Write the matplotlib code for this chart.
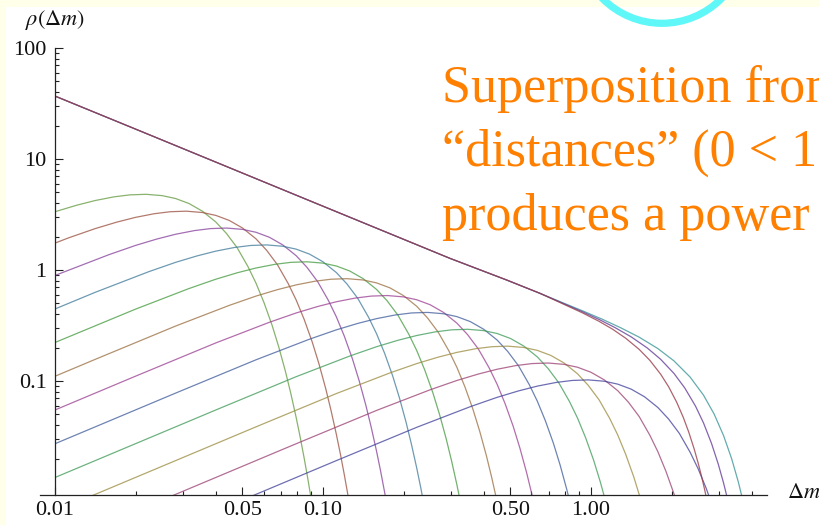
import numpy as np
import matplotlib.pyplot as plt
from matplotlib.patches import Ellipse, Rectangle
from matplotlib.ticker import NullFormatter

plt.rcParams['font.family'] = ['Liberation Serif', 'DejaVu Serif']
plt.rcParams['mathtext.fontset'] = 'stix'

#====================== DATA (log10 values) ======================

# single-distance curves, smallest scale first: log10(dm), log10(rho)
dm_log = [
    [-2.00, -1.92, -1.85, -1.78, -1.72, -1.66, -1.60, -1.55, -1.50, -1.45, -1.40, -1.36, -1.32,
     -1.28, -1.25, -1.22, -1.19, -1.165, -1.14, -1.12, -1.10, -1.085, -1.07, -1.058, -1.047, -1.037],
    [-2.15, -1.95, -1.85, -1.77, -1.70, -1.63, -1.57, -1.51, -1.45, -1.40, -1.35, -1.30, -1.25,
     -1.21, -1.17, -1.13, -1.10, -1.07, -1.04, -1.015, -0.99, -0.97, -0.95, -0.935, -0.92, -0.908, -0.897],
    [-2.00, -1.80, -1.70, -1.62, -1.55, -1.48, -1.42, -1.36, -1.30, -1.25, -1.20, -1.15, -1.10,
     -1.06, -1.02, -0.98, -0.95, -0.92, -0.89, -0.865, -0.84, -0.82, -0.80, -0.785, -0.77, -0.758],
    [-2.15, -1.85, -1.65, -1.55, -1.47, -1.40, -1.33, -1.27, -1.21, -1.15, -1.10, -1.05, -1.00,
     -0.95, -0.91, -0.87, -0.83, -0.80, -0.77, -0.74, -0.715, -0.69, -0.67, -0.65, -0.635, -0.62],
    [-2.00, -1.70, -1.50, -1.40, -1.32, -1.25, -1.18, -1.12, -1.06, -1.00, -0.95, -0.90, -0.85,
     -0.80, -0.76, -0.72, -0.68, -0.65, -0.62, -0.59, -0.565, -0.54, -0.52, -0.50, -0.485],
    [-2.95, -1.85, -1.55, -1.35, -1.25, -1.17, -1.10, -1.03, -0.97, -0.91, -0.85, -0.80, -0.75,
     -0.70, -0.65, -0.61, -0.57, -0.53, -0.50, -0.47, -0.44, -0.415, -0.39, -0.37, -0.35],
    [-2.80, -1.70, -1.40, -1.20, -1.10, -1.02, -0.95, -0.88, -0.82, -0.76, -0.70, -0.65, -0.60,
     -0.55, -0.50, -0.46, -0.42, -0.38, -0.35, -0.32, -0.29, -0.265, -0.24, -0.22, -0.20],
    [-2.65, -1.55, -1.25, -1.05, -0.95, -0.87, -0.80, -0.73, -0.67, -0.61, -0.55, -0.50, -0.45,
     -0.40, -0.35, -0.31, -0.27, -0.23, -0.20, -0.17, -0.14, -0.115, -0.09, -0.07],
    [-2.50, -1.40, -1.10, -0.90, -0.80, -0.72, -0.65, -0.58, -0.52, -0.46, -0.40, -0.35, -0.30,
     -0.25, -0.20, -0.16, -0.12, -0.08, -0.05, -0.02, 0.01, 0.035, 0.06],
    [-2.35, -1.25, -0.95, -0.75, -0.65, -0.57, -0.50, -0.43, -0.37, -0.31, -0.25, -0.20, -0.15,
     -0.10, -0.05, -0.01, 0.03, 0.07, 0.10, 0.13, 0.16, 0.185],
    [-2.20, -1.10, -0.80, -0.60, -0.50, -0.42, -0.35, -0.28, -0.22, -0.16, -0.10, -0.05, 0.00,
     0.05, 0.10, 0.14, 0.18, 0.22, 0.25, 0.28, 0.31, 0.335],
    [-2.05, -0.95, -0.65, -0.45, -0.35, -0.27, -0.20, -0.13, -0.07, -0.01, 0.05, 0.10, 0.15,
     0.20, 0.25, 0.29, 0.33, 0.37, 0.40, 0.43, 0.46],
]
rho_log = [
    [0.525, 0.583, 0.626, 0.659, 0.677, 0.682, 0.670, 0.644, 0.599, 0.530, 0.433, 0.329, 0.200,
     0.031, -0.118, -0.294, -0.497, -0.693, -0.914, -1.112, -1.329, -1.506, -1.697, -1.860, -2.017, -2.167],
    [0.103, 0.289, 0.373, 0.431, 0.474, 0.507, 0.525, 0.530, 0.518, 0.492, 0.447, 0.378, 0.281,
     0.177, 0.048, -0.121, -0.270, -0.446, -0.649, -0.845, -1.066, -1.264, -1.481, -1.658, -1.849, -2.012, -2.169],
    [-0.049, 0.137, 0.221, 0.279, 0.322, 0.355, 0.373, 0.378, 0.366, 0.340, 0.295, 0.226, 0.129,
     0.025, -0.104, -0.273, -0.422, -0.598, -0.801, -0.997, -1.218, -1.416, -1.633, -1.810, -2.001, -2.164],
    [-0.501, -0.201, -0.015, 0.069, 0.127, 0.170, 0.203, 0.221, 0.226, 0.214, 0.188, 0.143, 0.074,
     -0.023, -0.127, -0.256, -0.425, -0.574, -0.750, -0.953, -1.149, -1.370, -1.568, -1.785, -1.962, -2.153],
    [-0.653, -0.353, -0.167, -0.083, -0.025, 0.018, 0.051, 0.069, 0.074, 0.062, 0.036, -0.009, -0.078,
     -0.175, -0.279, -0.408, -0.577, -0.726, -0.902, -1.105, -1.301, -1.522, -1.720, -1.937, -2.114],
    [-1.920, -0.805, -0.505, -0.319, -0.235, -0.177, -0.134, -0.101, -0.083, -0.078, -0.090, -0.116, -0.161,
     -0.230, -0.327, -0.431, -0.560, -0.729, -0.878, -1.054, -1.257, -1.453, -1.674, -1.872, -2.089],
    [-2.072, -0.957, -0.657, -0.471, -0.387, -0.329, -0.286, -0.253, -0.235, -0.230, -0.242, -0.268, -0.313,
     -0.382, -0.479, -0.583, -0.712, -0.881, -1.030, -1.206, -1.409, -1.605, -1.826, -2.024, -2.241],
    [-2.224, -1.109, -0.809, -0.623, -0.539, -0.481, -0.438, -0.405, -0.387, -0.382, -0.394, -0.420, -0.465,
     -0.534, -0.631, -0.735, -0.864, -1.033, -1.182, -1.358, -1.561, -1.757, -1.978, -2.176],
    [-2.376, -1.261, -0.961, -0.775, -0.691, -0.633, -0.590, -0.557, -0.539, -0.534, -0.546, -0.572, -0.617,
     -0.686, -0.783, -0.887, -1.016, -1.185, -1.334, -1.510, -1.713, -1.909, -2.130],
    [-2.528, -1.413, -1.113, -0.927, -0.843, -0.785, -0.742, -0.709, -0.691, -0.686, -0.698, -0.724, -0.769,
     -0.838, -0.935, -1.039, -1.168, -1.337, -1.486, -1.662, -1.865, -2.061],
    [-2.680, -1.565, -1.265, -1.079, -0.995, -0.937, -0.894, -0.861, -0.843, -0.838, -0.850, -0.876, -0.921,
     -0.990, -1.087, -1.191, -1.320, -1.489, -1.638, -1.814, -2.017, -2.213],
    [-2.832, -1.717, -1.417, -1.231, -1.147, -1.089, -1.046, -1.013, -0.995, -0.990, -1.002, -1.028, -1.073,
     -1.142, -1.239, -1.343, -1.472, -1.641, -1.790, -1.966, -2.169],
]

# superposition: power-law part shared by the three sums
sum_dm_log = [-2.00, -1.6455, -1.0858, -0.5261, -0.3146, -0.1903]
sum_rho_log = [1.567, 1.216, 0.660, 0.105, -0.090, -0.210]

# cut-off tails of the three sums (teal, violet, maroon)
tail_dm_log = [
    [-0.10, -0.03, 0.04, 0.11, 0.18, 0.25, 0.31, 0.37, 0.42, 0.46, 0.495, 0.525, 0.55, 0.568, 0.582],
    [-0.10, -0.03, 0.03, 0.09, 0.15, 0.21, 0.26, 0.31, 0.35, 0.39, 0.42, 0.45, 0.475, 0.495, 0.51, 0.522],
    [-0.10, -0.03, 0.03, 0.08, 0.13, 0.18, 0.22, 0.26, 0.29, 0.32, 0.345, 0.365, 0.385, 0.40,
     0.413, 0.424, 0.434, 0.442],
]
tail_rho_log = [
    [-0.300, -0.369, -0.441, -0.519, -0.605, -0.708, -0.819, -0.964, -1.127, -1.299, -1.492, -1.699,
     -1.909, -2.086, -2.241],
    [-0.305, -0.378, -0.445, -0.519, -0.602, -0.702, -0.804, -0.932, -1.062, -1.225, -1.377, -1.562,
     -1.747, -1.919, -2.065, -2.193],
    [-0.310, -0.388, -0.462, -0.532, -0.615, -0.715, -0.814, -0.938, -1.052, -1.191, -1.330, -1.460,
     -1.610, -1.738, -1.861, -1.975, -2.087, -2.183],
]

x_major = [0.01, 0.05, 0.1, 0.5, 1.0]
x_major_labels = ['0.01', '0.05', '0.10', '0.50', '1.00']
x_minor = [0.02, 0.03, 0.04, 0.06, 0.07, 0.08, 0.09, 0.2, 0.3, 0.4, 0.6, 0.7, 0.8, 0.9, 2, 3, 4]
y_major = [0.1, 1, 10, 100]
y_major_labels = ['0.1', '1', '10', '100']
y_minor = [0.02, 0.03, 0.04, 0.05, 0.06, 0.07, 0.08, 0.09,
           0.2, 0.3, 0.4, 0.5, 0.6, 0.7, 0.8, 0.9,
           2, 3, 4, 5, 6, 7, 8, 9, 20, 30, 40, 50, 60, 70, 80, 90]

text_lines = ['Superposition from', '\u201cdistances\u201d (0 < 1', 'produces a power']

#====================== STYLE ======================

curve_colors = ['#62993D', '#994E3D', '#843D99', '#3D7999', '#43993D', '#996D3D',
                '#993D90', '#3D5A99', '#3D9956', '#998B3D', '#993D71', '#3E3D99']
sum_colors = ['#3D9799', '#653D99', '#993D4B']

#====================== PLOT ======================

fig = plt.figure(figsize=(8.2, 5.25), dpi=100, facecolor='#FFFFEA')
fig.add_artist(Rectangle((6 / 820, 0), 1, 518 / 525, transform=fig.transFigure,
                         facecolor='white', edgecolor='none', zorder=-1))

ax = fig.add_axes([55 / 820, 30 / 525, 712 / 820, 447 / 525])
ax.set_facecolor('none')
ax.set_xscale('log')
ax.set_yscale('log')

for lx, ly, c in zip(dm_log, rho_log, curve_colors):
    ax.plot(10 ** np.array(lx), 10 ** np.array(ly), color=c, lw=0.9, alpha=0.75)

for lx, ly, c in zip(tail_dm_log, tail_rho_log, sum_colors):
    ax.plot(10 ** np.array(sum_dm_log + lx), 10 ** np.array(sum_rho_log + ly),
            color=c, lw=0.9, alpha=0.8)

ax.set_xlim(0.01, 4.54)
ax.set_ylim(0.0094, 100)

for s in ['top', 'right']:
    ax.spines[s].set_visible(False)
for s in ['left', 'bottom']:
    ax.spines[s].set_color('#222222')
    ax.spines[s].set_linewidth(0.9)
ax.spines['bottom'].set_bounds(0.0088, 4.54)

ax.set_xticks(x_major, x_major_labels)
ax.set_xticks(x_minor, minor=True)
ax.set_yticks(y_major, y_major_labels)
ax.set_yticks(y_minor, minor=True)
ax.xaxis.set_minor_formatter(NullFormatter())
ax.yaxis.set_minor_formatter(NullFormatter())
ax.tick_params(which='both', direction='in', color='#222222', width=0.8,
               labelsize=16, labelcolor='#111111')
ax.tick_params(which='major', length=5.8)
ax.tick_params(which='minor', length=3.2)
ax.tick_params(axis='x', which='major', pad=4)
ax.tick_params(axis='y', which='major', pad=6)

ax.text(0, 1.063, r'$\rho(\Delta m)$', transform=ax.transAxes, ha='center', va='center',
        fontsize=16, color='#111111')
ax.text(1.028, 0.004, r'$\Delta m$', transform=ax.transAxes, ha='left', va='center',
        fontsize=16, color='#111111', clip_on=False)

for i, line in enumerate(text_lines):
    fig.text(442 / 820, 1 - (102 + 64 * i) / 525, line, color='#FF8000', fontsize=37.5,
             ha='left', va='baseline')

fig.add_artist(Ellipse((662 / 820, (525 + 60.5) / 525), 2 * 83.8 / 820, 2 * 83.8 / 525,
                       transform=fig.transFigure, fill=False, edgecolor='#5FF7F7',
                       lw=5.2, zorder=5))

fig.savefig('out.png', dpi=100, facecolor=fig.get_facecolor())
